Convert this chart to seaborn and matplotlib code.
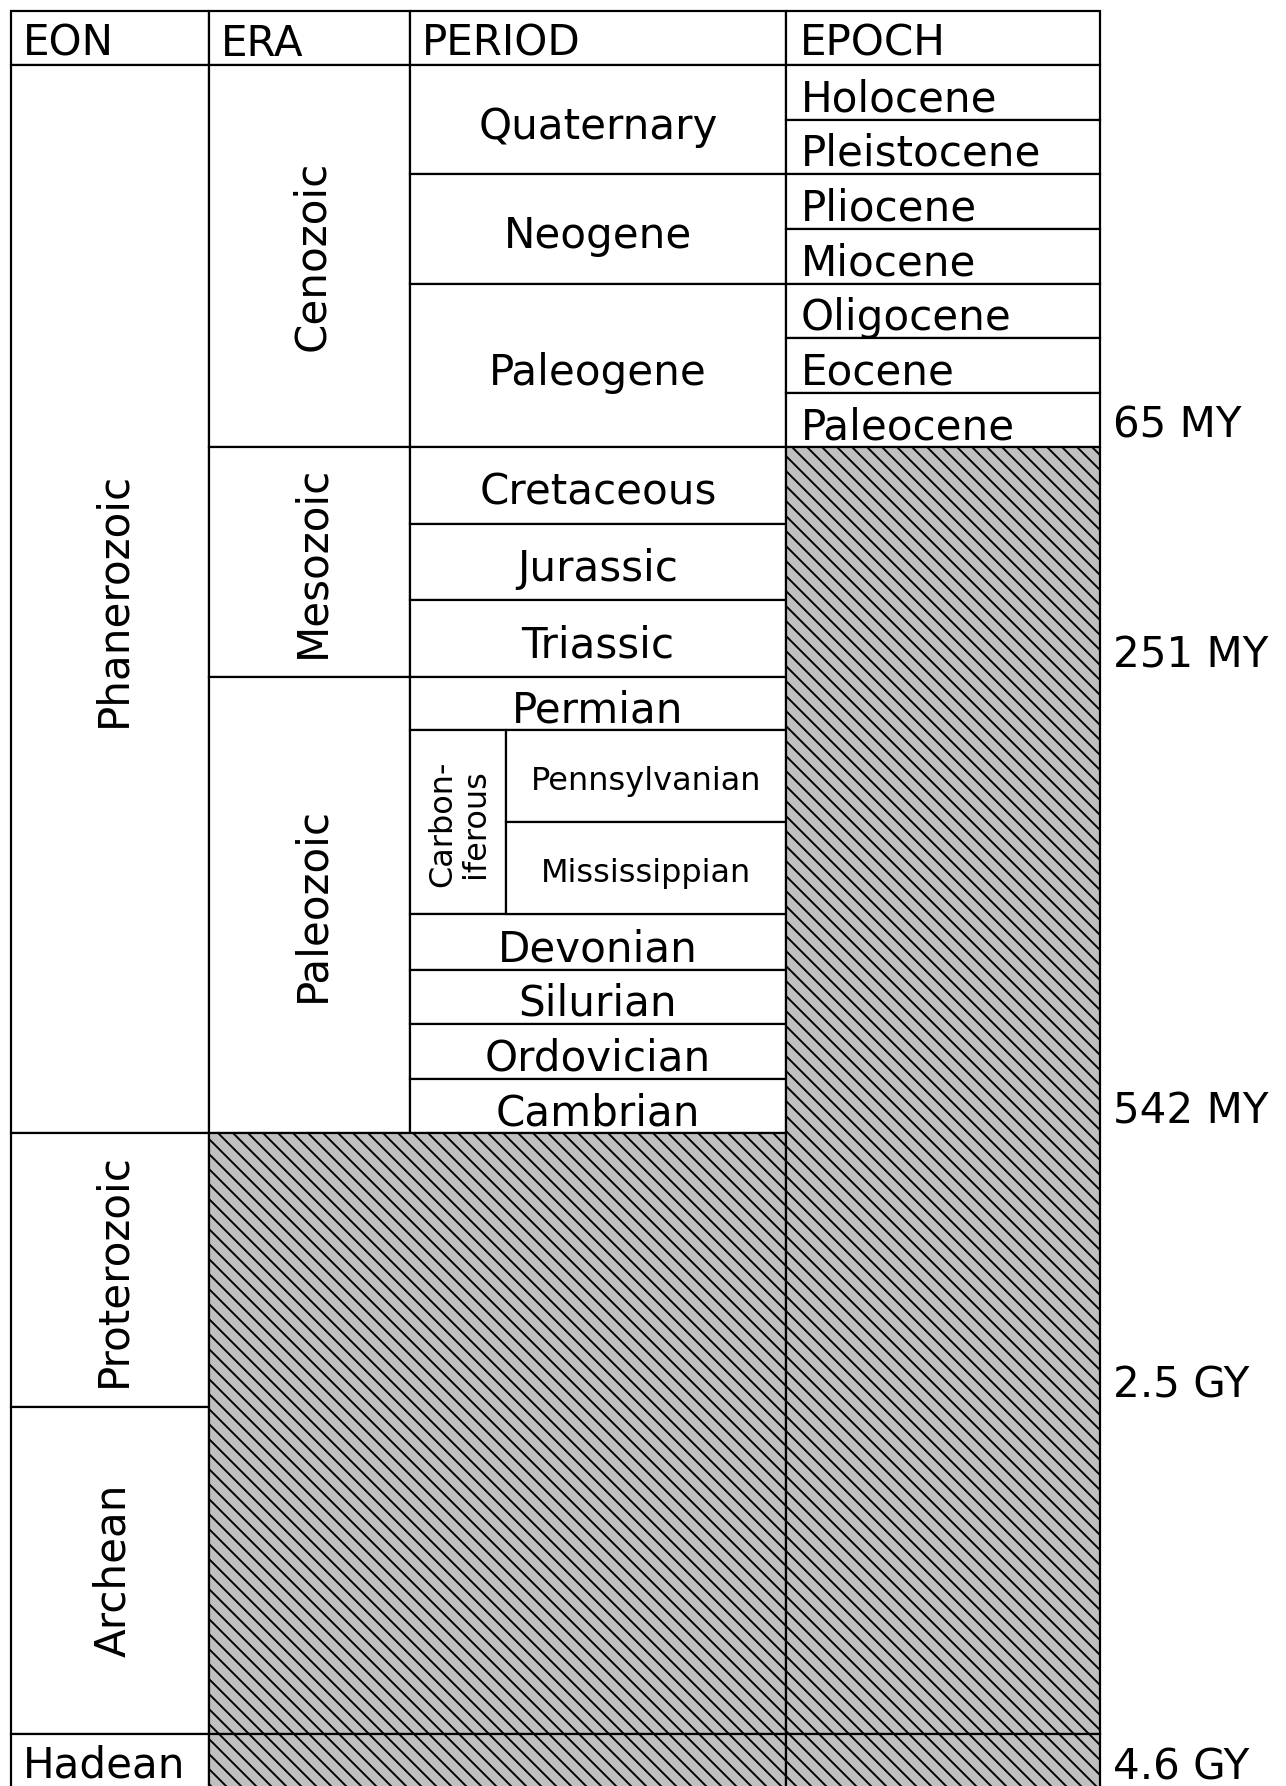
import matplotlib
matplotlib.use("Agg")
import matplotlib.pyplot as plt
import seaborn as sns

# ---------------- data ----------------
headers = ["EON", "ERA", "PERIOD", "EPOCH"]
eons = ["Phanerozoic", "Proterozoic", "Archean", "Hadean"]
eras = ["Cenozoic", "Mesozoic", "Paleozoic"]
periods = ["Quaternary", "Neogene", "Paleogene", "Cretaceous", "Jurassic",
           "Triassic", "Permian", "Carbon-\niferous", "Devonian", "Silurian",
           "Ordovician", "Cambrian"]
subperiods = ["Pennsylvanian", "Mississippian"]
epochs = ["Holocene", "Pleistocene", "Pliocene", "Miocene", "Oligocene",
          "Eocene", "Paleocene"]
boundary_labels = ["65 MY", "251 MY", "542 MY", "2.5 GY", "4.6 GY"]

# ---------------- layout (pixels) ----------------
W, H, DPI = 1286, 1786, 90
col_edges = [11, 209, 410, 786, 1100]
carb_split = 506
top, header_h = 11, 54
row_heights = [55, 54, 55, 55, 54, 55, 54,   # Cenozoic epochs
               77, 76, 77,                    # Mesozoic periods
               53, 92, 92, 56, 54, 55, 54,    # Paleozoic rows
               274, 327, 54]                  # Proterozoic, Archean, Hadean
eon_rows = [(0, 17), (17, 18), (18, 19), (19, 20)]
era_rows = [(0, 7), (7, 10), (10, 17)]
period_rows = [(0, 2), (2, 4), (4, 7), (7, 8), (8, 9), (9, 10), (10, 11),
               (11, 13), (13, 14), (14, 15), (15, 16), (16, 17)]
subperiod_rows = [(11, 12), (12, 13)]
epoch_rows = [(i, i + 1) for i in range(7)]
label_rows = [7, 10, 17, 18, 20]
hatch_blocks = [((1, 3), (17, 19)), ((1, 3), (19, 20)),
                ((3, 4), (7, 19)), ((3, 4), (19, 20))]

# ---------------- style ----------------
PX = 72 / DPI               # points per pixel
sns.set_theme(style="white")
plt.rcParams["font.family"] = ["DejaVu Sans"]
plt.rcParams["hatch.linewidth"] = 1.9 * PX
FS = 42 * PX                # big font (pt)
FS_S = 32 * PX              # small font (pt)
LW = 2.2 * PX               # border width (pt)
GRAY = "#c0c0c0"

fig = plt.figure(figsize=(W / DPI, H / DPI), dpi=DPI)
ax = fig.add_axes([0, 0, 1, 1])
ax.set_xlim(0, W)
ax.set_ylim(H, 0)
ax.set_axis_off()

y_edges = [top + header_h]
for h in row_heights:
    y_edges.append(y_edges[-1] + h)


def cell(x0, x1, y0, y1, hatched=False):
    ax.bar(x0, y1 - y0, width=x1 - x0, bottom=y0, align="edge",
           facecolor=GRAY if hatched else "white", edgecolor="black",
           linewidth=LW, hatch="\\\\" if hatched else None, zorder=1)


def htext(s, x, y0, y1, ha="left", fs=FS, off=19):
    ax.text(x, (y0 + y1) / 2 + off, s, ha=ha, va="baseline",
            fontsize=fs, color="black", zorder=3)


def vtext(s, x0, x1, y0, y1):
    ax.text((x0 + x1) / 2 + 15, (y0 + y1) / 2, s, rotation=90,
            rotation_mode="anchor", ha="center", va="baseline",
            fontsize=FS, color="black", zorder=3)


PAD = 12
# header
for i, name in enumerate(headers):
    cell(col_edges[i], col_edges[i + 1], top, top + header_h)
    htext(name, col_edges[i] + PAD + (2 if i == 3 else 0), top, top + header_h, off=18)

# eons
for name, (r0, r1) in zip(eons, eon_rows):
    x0, x1 = col_edges[0], col_edges[1]
    y0, y1 = y_edges[r0], y_edges[r1]
    cell(x0, x1, y0, y1)
    if r1 - r0 == 1 and row_heights[r0] < 80:
        htext(name, x0 + PAD, y0, y1, off=17)
    else:
        vtext(name, x0, x1, y0, y1)

# eras
for name, (r0, r1) in zip(eras, era_rows):
    x0, x1 = col_edges[1], col_edges[2]
    y0, y1 = y_edges[r0], y_edges[r1]
    cell(x0, x1, y0, y1)
    vtext(name, x0, x1, y0, y1)

# periods
for name, (r0, r1) in zip(periods, period_rows):
    y0, y1 = y_edges[r0], y_edges[r1]
    if "\n" in name:
        x0, x1 = col_edges[2], carb_split
        cell(x0, x1, y0, y1)
        ax.text((x0 + x1) / 2 + 1, (y0 + y1) / 2 + 2, name, rotation=90,
                ha="center", va="center", multialignment="center",
                fontsize=FS_S, linespacing=1.1, color="black", zorder=3)
    else:
        x0, x1 = col_edges[2], col_edges[3]
        cell(x0, x1, y0, y1)
        htext(name, (x0 + x1) / 2, y0, y1, ha="center")

# sub-periods of the Carboniferous
for name, (r0, r1) in zip(subperiods, subperiod_rows):
    x0, x1 = carb_split, col_edges[3]
    y0, y1 = y_edges[r0], y_edges[r1]
    cell(x0, x1, y0, y1)
    htext(name, (x0 + x1) / 2, y0, y1, ha="center", fs=FS_S, off=14)

# epochs
for name, (r0, r1) in zip(epochs, epoch_rows):
    x0, x1 = col_edges[3], col_edges[4]
    y0, y1 = y_edges[r0], y_edges[r1]
    cell(x0, x1, y0, y1)
    htext(name, x0 + PAD + 3, y0, y1)

# hatched (no subdivisions)
for (c0, c1), (r0, r1) in hatch_blocks:
    cell(col_edges[c0], col_edges[c1], y_edges[r0], y_edges[r1], hatched=True)

# boundary ages
for lab, r in zip(boundary_labels, label_rows):
    ax.text(col_edges[4] + 13, y_edges[r] - 9, lab, ha="left", va="baseline",
            fontsize=FS, color="black", zorder=3)

fig.savefig("out.png", dpi=DPI, facecolor="white")
